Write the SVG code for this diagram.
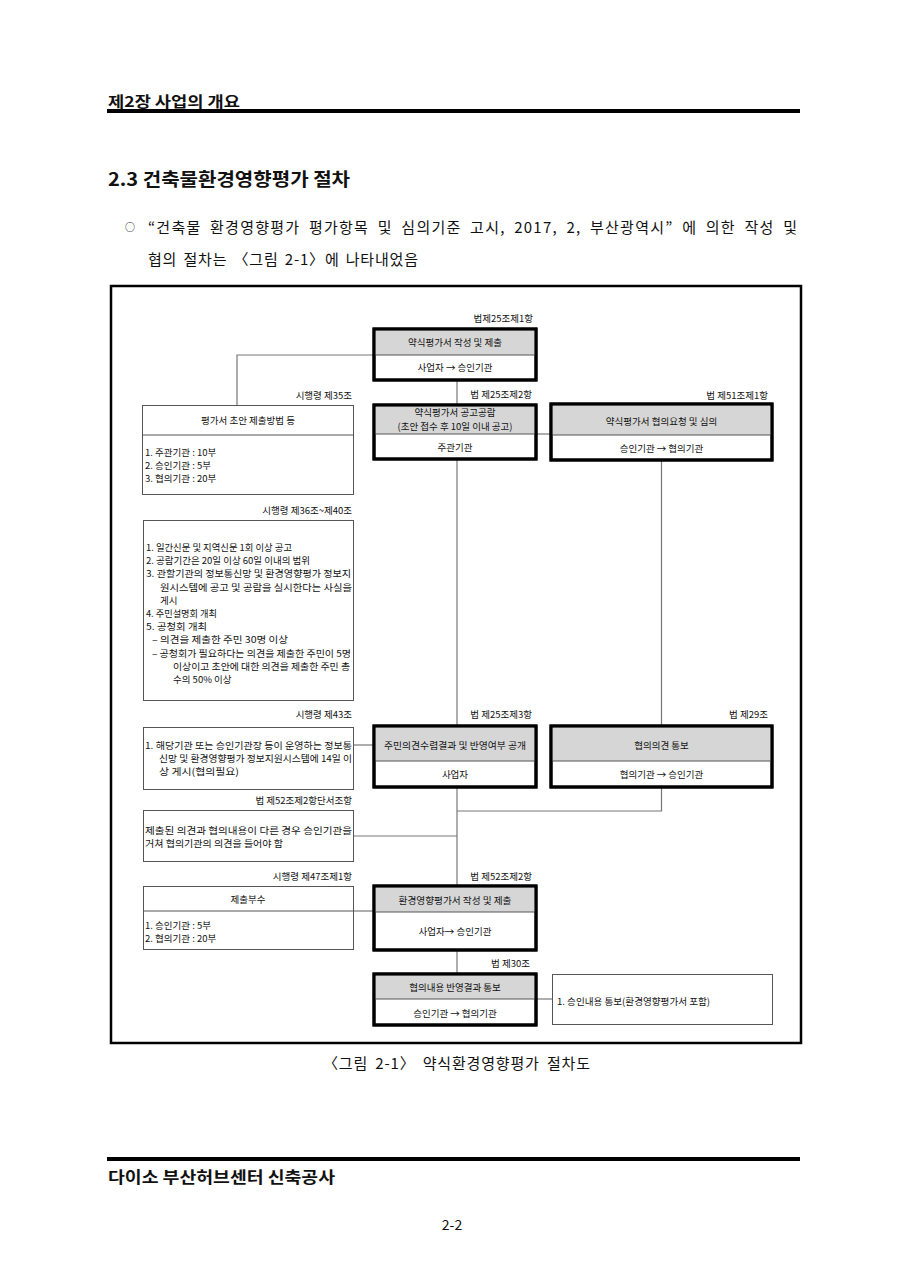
<svg xmlns="http://www.w3.org/2000/svg" width="905" height="1280" viewBox="0 0 905 1280">
<style>
text{font-family:"Noto Sans CJK KR","Noto Sans",sans-serif;fill:#111}
.t{font-size:9.5px;dominant-baseline:central}
.c{text-anchor:middle}
.r{text-anchor:end}
.hd{fill:#d6d6d6;stroke:none}
.bx{fill:#fff;stroke:#000;stroke-width:3}
.bxo{fill:none;stroke:#000;stroke-width:3}
.dv{stroke:#555;stroke-width:1}
.tb{fill:#fff;stroke:#555;stroke-width:1}
.cn{fill:none;stroke:#777;stroke-width:1.2}
.page{font-size:15px;dominant-baseline:central}
.b{font-weight:bold}
</style>
<rect width="905" height="1280" fill="#fff"/>
<!-- page header -->
<g id="page-header">
<text class="page b" x="108" y="100" textLength="132" lengthAdjust="spacingAndGlyphs">제2장 사업의 개요</text>
<rect x="107" y="109" width="693" height="4" fill="#000"/>
<text class="page b" x="108" y="178" style="font-size:18px" textLength="242" lengthAdjust="spacingAndGlyphs">2.3 건축물환경영향평가 절차</text>
<text class="page" x="130" y="226" style="font-size:10px" text-anchor="middle">○</text>
<text class="page" x="148" y="226" style="word-spacing:4px" textLength="649" lengthAdjust="spacing">“건축물 환경영향평가 평가항목 및 심의기준 고시, 2017, 2, 부산광역시” 에 의한 작성 및</text>
<text class="page" x="148" y="258" style="word-spacing:2px" textLength="270" lengthAdjust="spacing">협의 절차는 〈그림 2-1〉에 나타내었음</text>
</g>
<!-- frame -->
<rect id="frame" x="111" y="286" width="690" height="757" fill="none" stroke="#000" stroke-width="2.5"/>
<!-- connectors -->
<g id="connectors">
<path class="cn" d="M374,355 H237 V405"/>
<path class="cn" d="M457,380 V405"/>
<path class="cn" d="M536,434 H551"/>
<path class="cn" d="M457,459 V726"/>
<path class="cn" d="M661.5,460 V726"/>
<path class="cn" d="M354,745 H374"/>
<path class="cn" d="M661.5,787 V811 H457"/>
<path class="cn" d="M457,787 V886"/>
<path class="cn" d="M354,836 H457"/>
<path class="cn" d="M354,911 H374"/>
<path class="cn" d="M457,950 V974"/>
<path class="cn" d="M536,999 H552"/>
</g>
<!-- labels -->
<g id="labels">
<text class="t r" x="533" y="318">법제25조제1항</text>
<text class="t r" x="352" y="395">시행령 제35조</text>
<text class="t r" x="532" y="394">법 제25조제2항</text>
<text class="t r" x="768" y="395">법 제51조제1항</text>
<text class="t r" x="352" y="510">시행령 제36조~제40조</text>
<text class="t r" x="352" y="714">시행령 제43조</text>
<text class="t r" x="532" y="714">법 제25조제3항</text>
<text class="t r" x="768" y="714">법 제29조</text>
<text class="t r" x="352" y="800">법 제52조제2항단서조항</text>
<text class="t r" x="352" y="876">시행령 제47조제1항</text>
<text class="t r" x="532" y="876">법 제52조제2항</text>
<text class="t r" x="530" y="963">법 제30조</text>
</g>
<!-- thick nodes -->
<g id="n1">
<rect class="bx" x="374" y="329" width="162" height="51"/>
<rect class="hd" x="375.5" y="330.5" width="159" height="24.5"/>
<line class="dv" x1="375.5" y1="355" x2="534.5" y2="355"/>
<rect class="bxo" x="374" y="329" width="162" height="51"/>
<text class="t c" x="455" y="342">약식평가서 작성 및 제출</text>
<text class="t c" x="455" y="367">사업자 → 승인기관</text>
</g>
<g id="n2">
<rect class="bx" x="374" y="405" width="162" height="54"/>
<rect class="hd" x="375.5" y="406.5" width="159" height="27.5"/>
<line class="dv" x1="375.5" y1="434" x2="534.5" y2="434"/>
<rect class="bxo" x="374" y="405" width="162" height="54"/>
<text class="t c" x="455" y="412">약식평가서 공고공람</text>
<text class="t c" x="455" y="426">(초안 접수 후 10일 이내 공고)</text>
<text class="t c" x="455" y="447">주관기관</text>
</g>
<g id="n3">
<rect class="bx" x="551" y="404" width="221" height="56"/>
<rect class="hd" x="552.5" y="405.5" width="218" height="29.5"/>
<line class="dv" x1="552.5" y1="435" x2="770.5" y2="435"/>
<rect class="bxo" x="551" y="404" width="221" height="56"/>
<text class="t c" x="661.5" y="421">약식평가서 협의요청 및 심의</text>
<text class="t c" x="661.5" y="448">승인기관 → 협의기관</text>
</g>
<g id="n4">
<rect class="bx" x="374" y="726" width="162" height="61"/>
<rect class="hd" x="375.5" y="727.5" width="159" height="33.5"/>
<line class="dv" x1="375.5" y1="761" x2="534.5" y2="761"/>
<rect class="bxo" x="374" y="726" width="162" height="61"/>
<text class="t c" x="455" y="745" textLength="142" lengthAdjust="spacingAndGlyphs">주민의견수렴결과 및 반영여부 공개</text>
<text class="t c" x="455" y="774">사업자</text>
</g>
<g id="n5">
<rect class="bx" x="551" y="726" width="221" height="61"/>
<rect class="hd" x="552.5" y="727.5" width="218" height="33.5"/>
<line class="dv" x1="552.5" y1="761" x2="770.5" y2="761"/>
<rect class="bxo" x="551" y="726" width="221" height="61"/>
<text class="t c" x="661.5" y="745">협의의견 통보</text>
<text class="t c" x="661.5" y="774">협의기관 → 승인기관</text>
</g>
<g id="n6">
<rect class="bx" x="374" y="886" width="162" height="64"/>
<rect class="hd" x="375.5" y="887.5" width="159" height="24.5"/>
<line class="dv" x1="375.5" y1="912" x2="534.5" y2="912"/>
<rect class="bxo" x="374" y="886" width="162" height="64"/>
<text class="t c" x="455" y="900" textLength="113" lengthAdjust="spacingAndGlyphs">환경영향평가서 작성 및 제출</text>
<text class="t c" x="455" y="931">사업자→ 승인기관</text>
</g>
<g id="n7">
<rect class="bx" x="374" y="974" width="162" height="51"/>
<rect class="hd" x="375.5" y="975.5" width="159" height="23.5"/>
<line class="dv" x1="375.5" y1="999" x2="534.5" y2="999"/>
<rect class="bxo" x="374" y="974" width="162" height="51"/>
<text class="t c" x="455" y="987">협의내용 반영결과 통보</text>
<text class="t c" x="455" y="1013">승인기관 → 협의기관</text>
</g>
<!-- thin nodes -->
<g id="boxA">
<rect class="tb" x="142.5" y="405.5" width="211" height="89"/>
<line class="dv" x1="142.5" y1="435" x2="353.5" y2="435"/>
<text class="t c" x="248" y="420">평가서 초안 제출방법 등</text>
<text class="t" x="145" y="452">1. 주관기관 : 10부</text>
<text class="t" x="145" y="465">2. 승인기관 : 5부</text>
<text class="t" x="145" y="478">3. 협의기관 : 20부</text>
</g>
<g id="boxB">
<rect class="tb" x="143.5" y="520.5" width="210" height="180"/>
<text class="t" x="146" y="547" textLength="146" lengthAdjust="spacingAndGlyphs">1. 일간신문 및 지역신문 1회 이상 공고</text>
<text class="t" x="146" y="560" textLength="164" lengthAdjust="spacingAndGlyphs">2. 공람기간은 20일 이상 60일 이내의 범위</text>
<text class="t" x="146" y="573" textLength="205" lengthAdjust="spacingAndGlyphs">3. 관할기관의 정보통신망 및 환경영향평가 정보지</text>
<text class="t" x="160" y="587" textLength="192" lengthAdjust="spacingAndGlyphs">원시스템에 공고 및 공람을 실시한다는 사실을</text>
<text class="t" x="160" y="600">게시</text>
<text class="t" x="146" y="613" textLength="71" lengthAdjust="spacingAndGlyphs">4. 주민설명회 개최</text>
<text class="t" x="146" y="626" textLength="61" lengthAdjust="spacingAndGlyphs">5. 공청회 개최</text>
<text class="t" x="152" y="639" textLength="136" lengthAdjust="spacingAndGlyphs">– 의견을 제출한 주민 30명 이상</text>
<text class="t" x="152" y="653" textLength="199" lengthAdjust="spacingAndGlyphs">– 공청회가 필요하다는 의견을 제출한 주민이 5명</text>
<text class="t" x="173" y="666" textLength="177" lengthAdjust="spacingAndGlyphs">이상이고 초안에 대한 의견을 제출한 주민 총</text>
<text class="t" x="173" y="679">수의 50% 이상</text>
</g>
<g id="boxC">
<rect class="tb" x="143.5" y="727.5" width="210" height="62"/>
<text class="t" x="145" y="745" textLength="207" lengthAdjust="spacingAndGlyphs">1. 해당기관 또는 승인기관장 등이 운영하는 정보통</text>
<text class="t" x="159" y="758" textLength="193" lengthAdjust="spacingAndGlyphs">신망 및 환경영향평가 정보지원시스템에 14일 이</text>
<text class="t" x="159" y="771" textLength="80" lengthAdjust="spacingAndGlyphs">상 게시(협의필요)</text>
</g>
<g id="boxD">
<rect class="tb" x="143.5" y="810.5" width="210" height="51"/>
<text class="t" x="145" y="830" textLength="207" lengthAdjust="spacingAndGlyphs">제출된 의견과 협의내용이 다른 경우 승인기관을</text>
<text class="t" x="145" y="843" textLength="138" lengthAdjust="spacingAndGlyphs">거쳐 협의기관의 의견을 들어야 함</text>
</g>
<g id="boxE">
<rect class="tb" x="143.5" y="886.5" width="210" height="63"/>
<line class="dv" x1="143.5" y1="911" x2="353.5" y2="911"/>
<text class="t c" x="248" y="899">제출부수</text>
<text class="t" x="145" y="925">1. 승인기관 : 5부</text>
<text class="t" x="145" y="938">2. 협의기관 : 20부</text>
</g>
<g id="boxF">
<rect class="tb" x="552.5" y="974.5" width="220" height="50"/>
<text class="t" x="557" y="1001" textLength="153" lengthAdjust="spacingAndGlyphs">1. 승인내용 통보(환경영향평가서 포함)</text>
</g>
<!-- caption & footer -->
<g id="page-footer">
<text class="page" x="323" y="1062" style="word-spacing:3px" textLength="267" lengthAdjust="spacing">〈그림 2-1〉 약식환경영향평가 절차도</text>
<rect x="107" y="1157" width="693" height="4" fill="#000"/>
<text class="page b" x="108" y="1176" style="font-size:16px" textLength="227" lengthAdjust="spacingAndGlyphs">다이소 부산허브센터 신축공사</text>
<text class="page" x="452" y="1224" style="font-size:14px" text-anchor="middle">2-2</text>
</g>
</svg>
